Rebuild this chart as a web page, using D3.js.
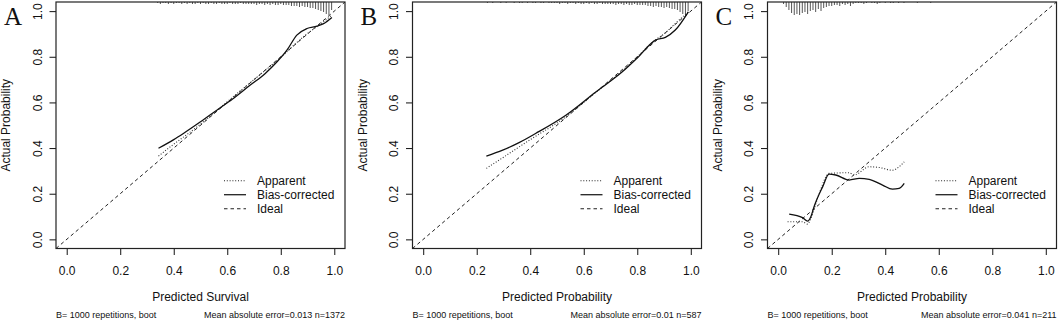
<!DOCTYPE html>
<html lang="en">
<head>
<meta charset="UTF-8">
<title>Calibration curves</title>
<script src="https://d3js.org/d3.v7.min.js"></script>
<style>
    body { margin: 0; background: #fff; }
    svg { display: block; font-family: "Liberation Sans", Arial, sans-serif; }
</style>
</head>
<body>
<div id="chart"></div>
<script>
// ---- data ----
const panelLetters = ["A", "B", "C"];
const xTitles = ["Predicted Survival", "Predicted Probability", "Predicted Probability"];
const subLeft = "B= 1000 repetitions, boot";
const subRight = ["Mean absolute error=0.013 n=1372", "Mean absolute error=0.01 n=587", "Mean absolute error=0.041 n=211"];
const tickValues = [0, 0.2, 0.4, 0.6, 0.8, 1.0];
const legendLabels = ["Apparent", "Bias-corrected", "Ideal"];

// [predicted, actual]
const apparentA = [[0.343,0.365],[0.40,0.417],[0.45,0.46],[0.5,0.505],[0.55,0.553],[0.6,0.603],[0.65,0.652],
    [0.7,0.7],[0.75,0.748],[0.8,0.797],[0.85,0.852],[0.9,0.902],[0.95,0.945],[0.991,0.982]];
const biasA = [[0.343,0.399],[0.40,0.437],[0.436,0.464],[0.5,0.515],[0.561,0.566],[0.62,0.615],[0.686,0.676],
    [0.74,0.725],[0.786,0.778],[0.823,0.829],[0.86,0.895],[0.898,0.924],[0.935,0.934],[0.96,0.945],[0.991,0.972]];

const apparentB = [[0.236,0.311],[0.3,0.36],[0.4,0.437],[0.533,0.537],[0.6,0.6],[0.645,0.644],[0.75,0.745],
    [0.8,0.8],[0.87,0.876],[0.9,0.9],[0.942,0.946],[0.991,0.997]];
const biasB = [[0.236,0.365],[0.297,0.391],[0.36,0.425],[0.42,0.464],[0.533,0.544],[0.645,0.646],[0.744,0.734],
    [0.8,0.795],[0.868,0.873],[0.905,0.885],[0.942,0.917],[0.991,0.997]];

const apparentC = [[0.035,0.077],[0.091,0.077],[0.11,0.067],[0.122,0.092],[0.153,0.20],[0.19,0.289],[0.265,0.292],
    [0.284,0.282],[0.34,0.318],[0.377,0.315],[0.427,0.303],[0.452,0.318],[0.471,0.34]];
const biasC = [[0.041,0.111],[0.091,0.095],[0.11,0.08],[0.122,0.099],[0.134,0.143],[0.166,0.23],[0.19,0.286],
    [0.215,0.282],[0.265,0.26],[0.303,0.267],[0.34,0.263],[0.39,0.238],[0.427,0.22],[0.452,0.223],[0.471,0.245]];

// top rug: counts per 0.01 bin of predicted values, starting at rugStart
const rugStart = [0.34, 0.24, 0.02];
const rugA = [1,2,1,1,2,1,2,1,1,2,1,2,1,2,2,1,
    2,1,2,2,1,2,2,1,2,2,2,1,2,2,2,1,2,2,2,2,
    2,3,2,2,3,2,3,2,3,3,2,3,3,3,4,
    4,4,5,4,5,5,6,6,7,8,9,10,12,13,8];
const rugB = [1,0,1,0,0,1,0,1,0,0,1,0,1,1,0,1,0,1,1,0,1,1,0,1,1,1,
    1,2,1,1,2,1,1,2,1,2,2,1,2,1,2,2,1,2,2,2,
    2,2,3,2,2,3,2,3,3,2,3,3,3,3,4,
    4,5,4,5,5,6,5,6,7,7,8,10,12,13,9];
const rugC = [2,5,8,11,13,12,13,11,
    10,12,9,8,10,7,9,6,5,4,
    4,3,3,4,2,3,2,4,2,1,
    1,1,2,1,0,1,1,2,1,0,
    1,0,1,1,0,1,0,1,0,0,
    0,0,1,0,0,0,0,1];

const apparent = [apparentA, apparentB, apparentC];
const bias = [biasA, biasB, biasC];
const rugs = [rugA, rugB, rugC];

// ---- layout ----
const W = 1059, H = 320;
const boxLefts = [56, 412.5, 767.5];
const boxW = 289, boxTop = 2, boxBottom = 248.5;

const svg = d3.select("#chart").append("svg").attr("width", W).attr("height", H);

const yScale = d3.scaleLinear().domain([-0.04, 1.04]).range([boxBottom, boxTop]);
const fmt = d3.format(".1f");

panelLetters.forEach((letter, i) => {
    const left = boxLefts[i];
    const x = d3.scaleLinear().domain([-0.04, 1.04]).range([left, left + boxW]);
    const g = svg.append("g");

    const clipId = "clip" + i;
    svg.append("clipPath").attr("id", clipId)
        .append("rect").attr("x", left).attr("y", boxTop).attr("width", boxW).attr("height", boxBottom - boxTop);

    // axes
    const xAxis = g.append("g")
        .attr("transform", `translate(0,${boxBottom})`)
        .call(d3.axisBottom(x).tickValues(tickValues).tickFormat(fmt).tickSize(6.5).tickSizeOuter(0));
    xAxis.select(".domain").remove();
    xAxis.selectAll("text").attr("y", 26).attr("dy", 0).attr("font-size", 12).attr("fill", "#111")
        .attr("font-family", "Liberation Sans, Arial, sans-serif");

    const yAxis = g.append("g")
        .attr("transform", `translate(${left},0)`)
        .call(d3.axisLeft(yScale).tickValues(tickValues).tickFormat(fmt).tickSize(6.5).tickSizeOuter(0));
    yAxis.select(".domain").remove();
    yAxis.selectAll("text")
        .attr("transform", "rotate(-90)")
        .attr("x", 0).attr("y", -14.5).attr("dy", 0)
        .attr("text-anchor", "middle").attr("font-size", 12).attr("fill", "#111")
        .attr("font-family", "Liberation Sans, Arial, sans-serif");
    g.selectAll(".tick line").attr("stroke", "#111");

    // rug spikes hanging from the top
    const rug = rugs[i];
    const h = d3.scaleLinear().domain([0, d3.max(rug)]).range([0, 13]);
    g.append("g").selectAll("line")
        .data(rug.map((n, k) => ({p: rugStart[i] + k * 0.01, n})).filter(d => d.n > 0))
        .join("line")
        .attr("x1", d => x(d.p)).attr("x2", d => x(d.p))
        .attr("y1", boxTop).attr("y2", d => boxTop + h(d.n))
        .attr("stroke", "#555").attr("stroke-width", 1);

    // curves
    const line = d3.line().x(d => x(d[0])).y(d => yScale(d[1])).curve(d3.curveMonotoneX);
    const lines = g.append("g").attr("clip-path", `url(#${clipId})`);
    lines.append("path")
        .attr("d", line([[-0.04, -0.04], [1.04, 1.04]]))
        .attr("fill", "none").attr("stroke", "#222").attr("stroke-width", 1).attr("stroke-dasharray", "3.5,3");
    lines.append("path")
        .attr("d", line(apparent[i]))
        .attr("fill", "none").attr("stroke", "#333").attr("stroke-width", 1.1).attr("stroke-dasharray", "1,1.8");
    lines.append("path")
        .attr("d", line(bias[i]))
        .attr("fill", "none").attr("stroke", "#111").attr("stroke-width", 1.3);

    // box
    g.append("rect")
        .attr("x", left).attr("y", boxTop).attr("width", boxW).attr("height", boxBottom - boxTop)
        .attr("fill", "none").attr("stroke", "#222").attr("stroke-width", 1.2);

    // legend
    const dashes = ["1,1.8", null, "3.5,3"];
    const legY = [180.7, 194.7, 208.7];
    legendLabels.forEach((lab, k) => {
        g.append("line")
            .attr("x1", left + 168).attr("x2", left + 190)
            .attr("y1", legY[k]).attr("y2", legY[k])
            .attr("stroke", "#222").attr("stroke-width", k === 1 ? 1.3 : 1.1)
            .attr("stroke-dasharray", dashes[k]);
        g.append("text")
            .attr("x", left + 201).attr("y", legY[k] + 4.3)
            .attr("font-size", 12).attr("fill", "#111")
            .text(lab);
    });

    // titles
    g.append("text")
        .attr("x", left + boxW / 2).attr("y", 301)
        .attr("text-anchor", "middle").attr("font-size", 12).attr("fill", "#111")
        .text(xTitles[i]);
    g.append("text")
        .attr("transform", `translate(${left - 46},${(boxTop + boxBottom) / 2}) rotate(-90)`)
        .attr("text-anchor", "middle").attr("font-size", 12).attr("fill", "#111")
        .text("Actual Probability");
    g.append("text")
        .attr("x", left).attr("y", 317.5)
        .attr("font-size", 9).attr("fill", "#111")
        .text(subLeft);
    g.append("text")
        .attr("x", left + boxW).attr("y", 317.5)
        .attr("text-anchor", "end").attr("font-size", 9).attr("fill", "#111")
        .text(subRight[i]);

    // panel letter
    g.append("text")
        .attr("x", left - 52).attr("y", 25)
        .attr("font-family", "Liberation Serif, Times New Roman, serif")
        .attr("font-size", 25).attr("fill", "#111")
        .text(letter);
});
</script>
</body>
</html>
